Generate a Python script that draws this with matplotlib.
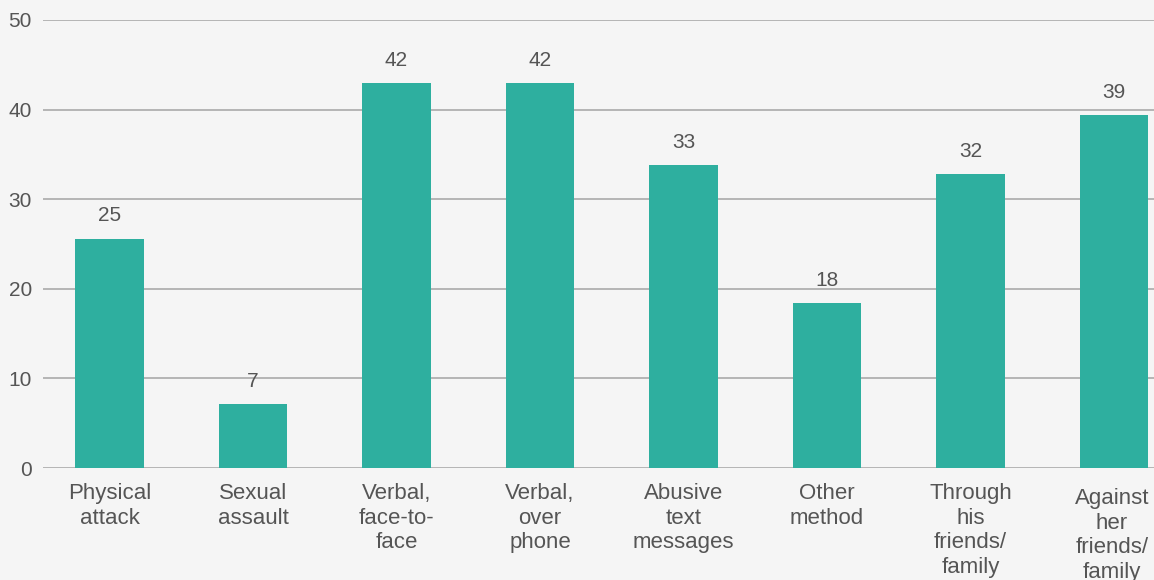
import matplotlib.pyplot as plt
import matplotlib.transforms as mtransforms

categories = ['Physical\nattack', 'Sexual\nassault', 'Verbal,\nface-to-\nface',
              'Verbal,\nover\nphone', 'Abusive\ntext\nmessages', 'Other\nmethod',
              'Through\nhis\nfriends/\nfamily', 'Against\nher\nfriends/\nfamily']
values = [25.6, 7.1, 43.0, 43.0, 33.8, 18.4, 32.8, 39.4]
labels = ['25', '7', '42', '42', '33', '18', '32', '39']

plt.rcParams['font.family'] = ['Liberation Sans', 'DejaVu Sans']
bg = '#f5f5f5'
txt = '#555555'

fig = plt.figure(figsize=(11.54, 5.8), dpi=100, facecolor=bg)
ax = fig.add_axes([43 / 1154, 1 - 468 / 580, 1 - 43 / 1154, 448 / 580])
ax.set_facecolor(bg)

x = list(range(len(values)))
bars = ax.bar(x, values, width=0.48, color='#2eaf9f', zorder=3)
for b, lab in zip(bars, labels):
    ax.annotate(lab, (b.get_x() + b.get_width() / 2, b.get_height()),
                xytext=(0, 9.5), textcoords='offset points', ha='center', va='bottom',
                fontsize=15, color=txt)

ax.set_ylim(0, 50)
ax.set_xlim(-0.463, 7.279)
ax.set_yticks([0, 10, 20, 30, 40, 50])
ax.grid(axis='y', color='#b5b5b5', linewidth=1.4, zorder=0)
ax.tick_params(axis='both', length=0, labelsize=15, labelcolor=txt)
ax.tick_params(axis='y', pad=8)
ax.tick_params(axis='x', pad=11, labelsize=16)
ax.set_xticks(x)
ax.set_xticklabels(categories, linespacing=1.22)
for s in ax.spines.values():
    s.set_visible(False)

last = ax.get_xticklabels()[-1]
last.set_transform(last.get_transform() + mtransforms.ScaledTranslation(-2 / 100, -5 / 100, fig.dpi_scale_trans))

fig.savefig('out.png', dpi=100, facecolor=bg)
